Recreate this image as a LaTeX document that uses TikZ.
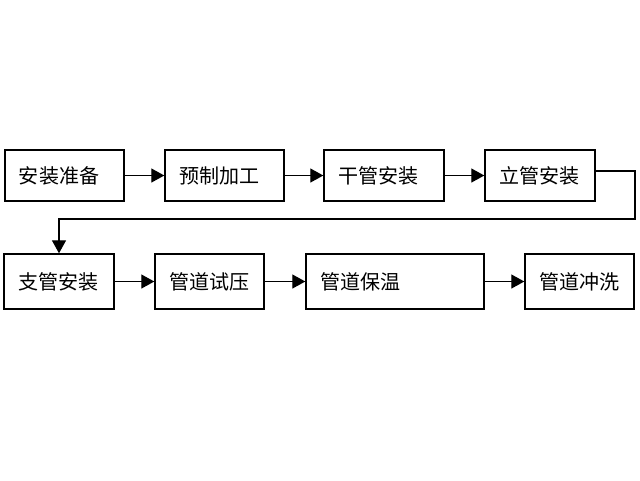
\documentclass[tikz,border=0pt]{standalone}
\usepackage{fontspec}
\newfontfamily\cjk{Noto Sans CJK SC}
\usetikzlibrary{arrows.meta}
\tikzset{
  stepbox/.style={draw, line width=0.8pt, inner xsep=0.28cm, align=left,
    font=\cjk\fontsize{11.4}{13}\selectfont},
  flow/.style={line width=0.7pt, -{Triangle[length=0.26cm,width=0.28cm]}}
}
\begin{document}
\begin{tikzpicture}[x=1cm,y=1cm]
    \useasboundingbox (0,0) rectangle (12.8,-9.6);
    \node[stepbox, text width=1.82cm, minimum height=1.02cm] (b1) at (1.29,-3.51) {安装准备};
    \node[stepbox, text width=1.82cm, minimum height=1.02cm] (b2) at (4.49,-3.51) {预制加工};
    \node[stepbox, text width=1.84cm, minimum height=1.02cm] (b3) at (7.68,-3.51) {干管安装};
    \node[stepbox, text width=1.64cm, minimum height=1.02cm] (b4) at (10.80,-3.51) {立管安装};
    \node[stepbox, text width=1.64cm, minimum height=1.10cm] (b5) at (1.18,-5.63) {支管安装};
    \node[stepbox, text width=1.62cm, minimum height=1.10cm] (b6) at (4.19,-5.63) {管道试压};
    \node[stepbox, text width=3.00cm, minimum height=1.10cm] (b7) at (7.90,-5.63) {管道保温};
    \node[stepbox, text width=1.62cm, minimum height=1.10cm] (b8) at (11.59,-5.63) {管道冲洗};
    \coordinate (turn) at (12.70,-4.38);
    \draw[flow] (b1) -- (b2);
    \draw[flow] (b2) -- (b3);
    \draw[flow] (b3) -- (b4);
    \draw[flow] ([yshift=0.09cm]b4.east) -| (turn) -| (b5.north);
    \draw[flow] (b5) -- (b6);
    \draw[flow] (b6) -- (b7);
    \draw[flow] (b7) -- (b8);
\end{tikzpicture}
\end{document}
